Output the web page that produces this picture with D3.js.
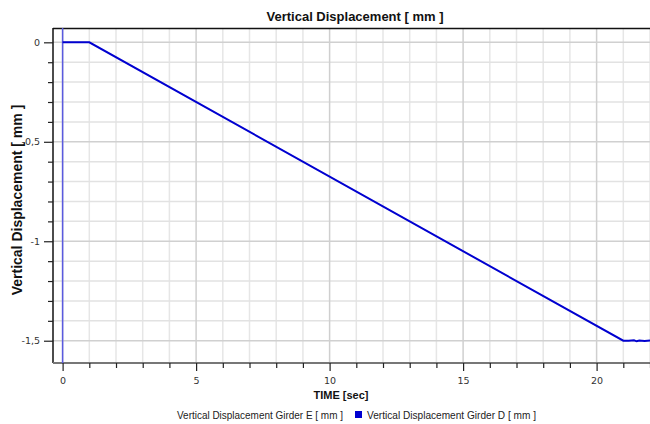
<!DOCTYPE html>
<html>
<head>
<meta charset="utf-8">
<script src="https://cdn.jsdelivr.net/npm/d3@7"></script>
<style>
  html, body { margin: 0; padding: 0; background: #fff; }
  svg { display: block; }
</style>
</head>
<body>
<svg id="chart" width="650" height="424"></svg>
<script>
// Girder D: time history of vertical displacement
const timeD = [0, 1, 21, 21.2, 21.4, 21.5, 21.6, 21.8, 22];
const dispD = [0, 0, -1.5, -1.5, -1.498, -1.503, -1.499, -1.501, -1.499];

// Girder E: spike at t = 0 (clipped to the plot)
const timeE = [0, 0];
const dispE = [5, -5];

const xMajorTicks = [0, 5, 10, 15, 20];
const yMajorTicks = [0, -0.5, -1, -1.5];

const svg = d3.select("#chart");
const plot = { left: 53, right: 650, top: 28, bottom: 363 };

const x = d3.scaleLinear().domain([-0.36, 22]).range([plot.left, plot.right]);
const y = d3.scaleLinear().domain([-1.612, 0.072]).range([plot.bottom, plot.top]);

const xMinor = d3.range(0, 23, 1).filter(v => v % 5 !== 0);
const yMinor = d3.range(0, 16, 1).map(v => -v / 10).filter(v => Math.round(v * 10) % 5 !== 0);

const fmt = v => String(v).replace(".", ",");

// grid
const grid = svg.append("g");
grid.selectAll(".vmin").data(xMinor).enter().append("line")
  .attr("x1", d => x(d)).attr("x2", d => x(d))
  .attr("y1", plot.top).attr("y2", plot.bottom)
  .attr("stroke", "#e6e6e6").attr("stroke-width", 1.5);
grid.selectAll(".hmin").data(yMinor).enter().append("line")
  .attr("x1", plot.left).attr("x2", plot.right)
  .attr("y1", d => y(d)).attr("y2", d => y(d))
  .attr("stroke", "#e2e2e2").attr("stroke-width", 1.5);
grid.selectAll(".vmaj").data(xMajorTicks).enter().append("line")
  .attr("x1", d => x(d)).attr("x2", d => x(d))
  .attr("y1", plot.top).attr("y2", plot.bottom)
  .attr("stroke", "#cfcfcf").attr("stroke-width", 1.5);
grid.selectAll(".hmaj").data(yMajorTicks).enter().append("line")
  .attr("x1", plot.left).attr("x2", plot.right)
  .attr("y1", d => y(d)).attr("y2", d => y(d))
  .attr("stroke", "#d0d0d0").attr("stroke-width", 1.5);

// clip
svg.append("clipPath").attr("id", "clip").append("rect")
  .attr("x", plot.left).attr("y", plot.top)
  .attr("width", plot.right - plot.left).attr("height", plot.bottom - plot.top);

// top border
svg.append("line").attr("x1", plot.left).attr("x2", plot.right)
  .attr("y1", plot.top + 0.5).attr("y2", plot.top + 0.5)
  .attr("stroke", "#111").attr("stroke-width", 1.5);

// axes
const yAxis = d3.axisLeft(y).tickValues(yMajorTicks).tickFormat(fmt).tickSize(9).tickPadding(4);
const yAxisMinor = d3.axisLeft(y).tickValues(yMinor).tickFormat("").tickSize(5);
const xAxis = d3.axisBottom(x).tickValues(xMajorTicks).tickFormat(fmt).tickSize(8).tickPadding(6);
const xAxisMinor = d3.axisBottom(x).tickValues(xMinor).tickFormat("").tickSize(5);

const gy = svg.append("g").attr("transform", `translate(${plot.left},0)`).call(yAxis);
svg.append("g").attr("transform", `translate(${plot.left},0)`).call(yAxisMinor)
  .call(g => g.select(".domain").remove());
gy.select(".domain").attr("d", `M0,${plot.top}V${plot.bottom}`).attr("stroke", "#111").attr("stroke-width", 1.5);

const gx = svg.append("g").attr("transform", `translate(0,${plot.bottom})`).call(xAxis);
svg.append("g").attr("transform", `translate(0,${plot.bottom})`).call(xAxisMinor)
  .call(g => g.select(".domain").remove());
gx.select(".domain").attr("d", `M${plot.left},0H${plot.right}`).attr("stroke", "#777").attr("stroke-width", 2);

svg.selectAll(".tick line").attr("stroke", "#222").attr("stroke-width", 1.2);
svg.selectAll(".tick text").attr("font-family", "'DejaVu Sans', sans-serif").attr("font-size", 9.5).attr("fill", "#333");

// series
const pts = (t, v) => t.map((d, i) => [d, v[i]]);
const line = d3.line().x(d => x(d[0])).y(d => y(d[1]));

svg.append("path").datum(pts(timeE, dispE))
  .attr("clip-path", "url(#clip)")
  .attr("d", line).attr("fill", "none")
  .attr("stroke", "#5a5ae0").attr("stroke-width", 1.5);

svg.append("path").datum(pts(timeD, dispD))
  .attr("clip-path", "url(#clip)")
  .attr("d", line).attr("fill", "none")
  .attr("stroke", "#0000d0").attr("stroke-width", 2);

// titles
svg.append("text").attr("x", 355).attr("y", 21).attr("text-anchor", "middle")
  .attr("font-family", "'Liberation Sans', Arial, sans-serif").attr("font-weight", "bold")
  .attr("font-size", 13).attr("fill", "#111").text("Vertical Displacement [ mm ]");

svg.append("text").attr("transform", "translate(22,200) rotate(-90)").attr("text-anchor", "middle")
  .attr("font-family", "'Liberation Sans', Arial, sans-serif").attr("font-weight", "bold")
  .attr("font-size", 14).attr("fill", "#111").text("Vertical Displacement [ mm ]");

svg.append("text").attr("x", 341).attr("y", 399).attr("text-anchor", "middle")
  .attr("font-family", "'Liberation Sans', Arial, sans-serif").attr("font-weight", "bold")
  .attr("font-size", 11).attr("fill", "#111").text("TIME [sec]");

// legend
const legend = svg.append("g").attr("font-family", "'Liberation Sans', Arial, sans-serif").attr("font-size", 10.5).attr("fill", "#222");
legend.append("text").attr("x", 177).attr("y", 419)
  .attr("textLength", 166).attr("lengthAdjust", "spacingAndGlyphs")
  .text("Vertical Displacement Girder E [ mm ]");
legend.append("rect").attr("x", 355).attr("y", 411).attr("width", 7).attr("height", 7).attr("fill", "#0000d0");
legend.append("text").attr("x", 367).attr("y", 419)
  .attr("textLength", 169).attr("lengthAdjust", "spacingAndGlyphs")
  .text("Vertical Displacement Girder D [ mm ]");
</script>
</body>
</html>
